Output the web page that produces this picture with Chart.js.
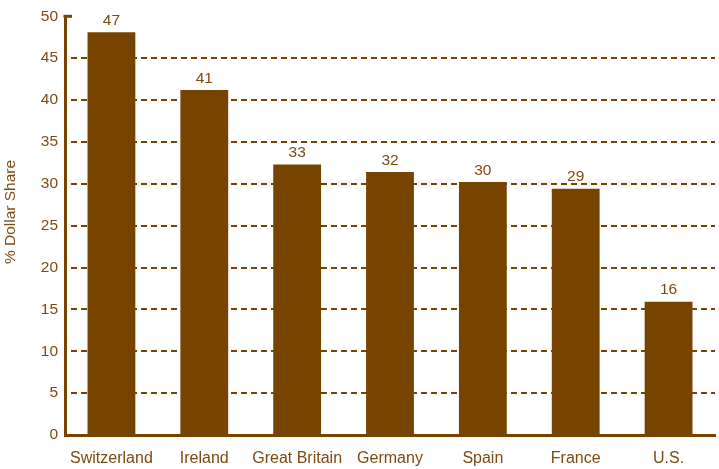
<!DOCTYPE html>
<html>
<head>
<meta charset="utf-8">
<script src="https://cdn.jsdelivr.net/npm/chart.js@4"></script>
<style>
  body { margin: 0; background: #fff; }
  #wrap { width: 719px; height: 469px; }
</style>
</head>
<body>
<div id="wrap"><canvas id="shareChart" width="719" height="469"></canvas></div>
<script>
const countries = ["Switzerland", "Ireland", "Great Britain", "Germany", "Spain", "France", "U.S."];
// bar heights as drawn, and the labels printed above them
const dollarShare = [48.1, 41.2, 32.3, 31.4, 30.2, 29.4, 15.9];
const shareLabels = ["47", "41", "33", "32", "30", "29", "16"];
const yTicks = [0, 5, 10, 15, 20, 25, 30, 35, 40, 45, 50];
const yTitle = "% Dollar Share";

const barColor = "#774400";
const textColor = "#7d4a14";
const family = "'Liberation Sans', Arial, sans-serif";

// numbers above bars, axis title and the small cap on the y axis
const extras = {
  id: "extras",
  afterDatasetsDraw(chart) {
    const ctx = chart.ctx;
    const meta = chart.getDatasetMeta(0);
    ctx.save();
    ctx.fillStyle = textColor;
    ctx.font = "15.5px " + family;
    ctx.textAlign = "center";
    ctx.textBaseline = "bottom";
    meta.data.forEach((bar, i) => {
      ctx.fillText(shareLabels[i], bar.x, bar.y - 4);
    });
    ctx.restore();
  },
  afterDraw(chart) {
    const ctx = chart.ctx;
    const area = chart.chartArea;
    ctx.save();
    ctx.strokeStyle = barColor;
    ctx.lineWidth = 3;
    ctx.beginPath();
    ctx.moveTo(area.left - 1.5, area.top);
    ctx.lineTo(area.left + 7, area.top);
    ctx.stroke();

    ctx.translate(11, 212);
    ctx.rotate(-Math.PI / 2);
    ctx.fillStyle = textColor;
    ctx.font = "15.5px " + family;
    ctx.textAlign = "center";
    ctx.textBaseline = "middle";
    ctx.fillText(yTitle, 0, 0);
    ctx.restore();
  },
};

const shareChart = new Chart(document.getElementById("shareChart"), {
  type: "bar",
  data: {
    labels: countries,
    datasets: [
      {
        data: dollarShare,
        backgroundColor: barColor,
        borderWidth: 0,
        barPercentage: 0.515,
        categoryPercentage: 1,
      },
    ],
  },
  options: {
    responsive: false,
    animation: false,
    layout: { padding: { top: -1, right: 4, left: 0, bottom: 2 } },
    plugins: {
      legend: { display: false },
      tooltip: { enabled: false },
    },
    scales: {
      x: {
        afterFit: (scale) => {
          scale.height = 32;
        },
        grid: { display: false, drawTicks: false },
        border: { display: true, color: barColor, width: 3 },
        ticks: {
          color: textColor,
          font: { family: family, size: 16 },
          padding: 14,
          maxRotation: 0,
          minRotation: 0,
          autoSkip: false,
        },
      },
      y: {
        min: 0,
        max: 50,
        afterBuildTicks: (scale) => {
          scale.ticks = yTicks.map((v) => ({ value: v }));
        },
        afterFit: (scale) => {
          scale.width = 65;
        },
        grid: {
          drawTicks: false,
          lineWidth: 2,
          color: (c) => (c.tick && (c.tick.value === 0 || c.tick.value === 50) ? "rgba(0,0,0,0)" : barColor),
        },
        border: { display: true, color: barColor, width: 3, dash: [6, 4], dashOffset: -4 },
        ticks: { color: textColor, font: { family: family, size: 15.5 }, padding: 7 },
      },
    },
  },
  plugins: [extras],
});
</script>
</body>
</html>
